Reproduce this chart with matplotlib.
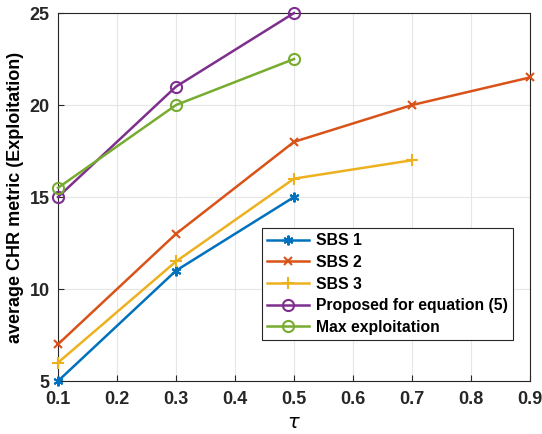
import matplotlib
matplotlib.use("Agg")
import matplotlib.pyplot as plt

plt.rcParams['font.family'] = ['Liberation Sans', 'DejaVu Sans']

tau = [0.1, 0.3, 0.5, 0.7, 0.9]
sbs1 = [5, 11, 15]
sbs2 = [7, 13, 18, 20, 21.5]
sbs3 = [6, 11.5, 16, 17]
proposed = [15, 21, 25]
maxexp = [15.5, 20, 22.5]
labels = ['SBS 1', 'SBS 2', 'SBS 3', 'Proposed for equation (5)', 'Max exploitation']

fig = plt.figure(figsize=(5.42, 4.34), dpi=100)
ax = fig.add_axes([0.107, 0.122, 0.871, 0.848])

lw = 1.8
kw = dict(lw=lw, mew=1.5, clip_on=False, zorder=3)
ax.plot(tau[:3], sbs1, color='#0072BD', marker=(6, 2, 0), ms=7, label=labels[0], **kw)
ax.plot(tau, sbs2, color='#D95319', marker='x', ms=6, label=labels[1], **kw)
ax.plot(tau[:4], sbs3, color='#EDB120', marker='+', ms=8, label=labels[2], **kw)
ax.plot(tau[:3], proposed, color='#7E2F8E', marker='o', ms=8, mfc='none', label=labels[3], **kw)
ax.plot(tau[:3], maxexp, color='#77AC30', marker='o', ms=8, mfc='none', label=labels[4], **kw)

ax.set_xlim(0.1, 0.9)
ax.set_ylim(5, 25)
ax.set_xticks([0.1, 0.2, 0.3, 0.4, 0.5, 0.6, 0.7, 0.8, 0.9])
ax.set_yticks([5, 10, 15, 20, 25])
ax.grid(True, color='#e6e6e6', lw=0.8)
ax.set_axisbelow(True)
for s in ax.spines.values():
    s.set_color('#262626')
    s.set_linewidth(0.8)
ax.tick_params(direction='in', length=4, width=0.8, colors='#262626', labelsize=13)
ax.tick_params(axis='x', pad=7)
ax.tick_params(axis='y', pad=6)
for t in ax.get_xticklabels() + ax.get_yticklabels():
    t.set_fontweight('bold')
ax.set_xlabel(r'$\tau$', fontsize=14, labelpad=5)
ax.set_ylabel('average CHR metric (Exploitation)', fontsize=13, fontweight='bold', labelpad=4)

leg = ax.legend(loc='lower right', bbox_to_anchor=(0.964, 0.111), prop={'weight': 'bold', 'size': 11.3},
                fancybox=False, edgecolor='#262626', framealpha=1, handlelength=2.7,
                borderpad=0.35, labelspacing=0.42, handletextpad=0.4, borderaxespad=0)
leg.get_frame().set_linewidth(0.8)

fig.savefig('out.png', dpi=100)
